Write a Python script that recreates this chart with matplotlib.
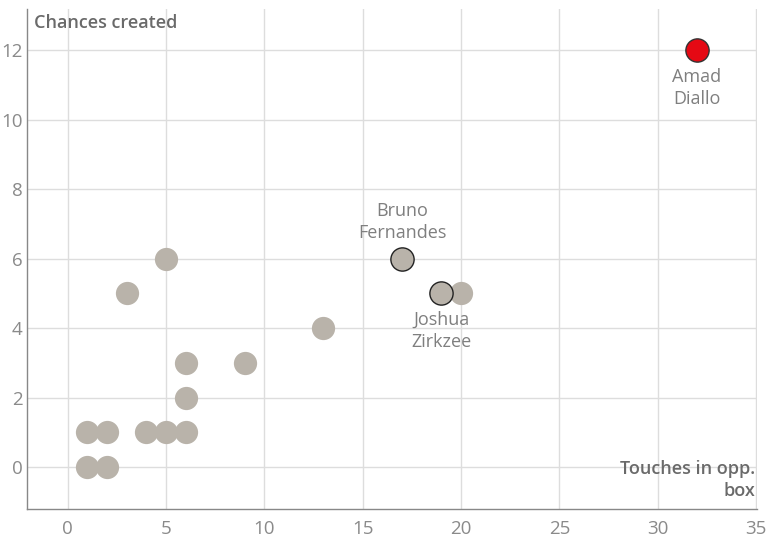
import numpy as np
import matplotlib.pyplot as plt

# touches in opposition box vs chances created
touches = [1, 2, 1, 2, 4, 5, 6, 6, 6, 9, 3, 5, 13, 20]
chances = [0, 0, 1, 1, 1, 1, 1, 2, 3, 3, 5, 6, 4, 5]

# highlighted players
hl_names = ['Bruno\nFernandes', 'Joshua\nZirkzee']
hl_touches = [17, 19]
hl_chances = [6, 5]

star_name = 'Amad\nDiallo'
star_touches = [32]
star_chances = [12]

xticks = [0, 5, 10, 15, 20, 25, 30, 35]
yticks = [0, 2, 4, 6, 8, 10, 12]

plt.rcParams['font.family'] = ['Open Sans', 'DejaVu Sans']

fig = plt.figure(figsize=(7.67, 5.41), dpi=100)
ax = fig.add_axes([0.035, 0.059, 0.952, 0.924])

grey = '#b9b3aa'
ax.scatter(touches, chances, s=280, color=grey, zorder=3, linewidths=0)
ax.scatter(hl_touches, hl_chances, s=280, color=grey, edgecolors='#222222',
           linewidths=1.0, zorder=4)
ax.scatter(star_touches, star_chances, s=280, color='#e50914', edgecolors='#333333',
           linewidths=1.0, zorder=5)

lab = dict(color='#7f7f7f', fontsize=13, ha='center', linespacing=1.3, zorder=6)
ax.text(32, 11.5, star_name, va='top', **lab)
ax.text(17, 6.48, hl_names[0], va='bottom', **lab)
ax.text(19, 4.5, hl_names[1], va='top', **lab)

ax.set_xlim(-2.08, 35.05)
ax.set_ylim(-1.21, 13.18)
ax.set_xticks(xticks)
ax.set_yticks(yticks)
ax.grid(True, color='#dddddd', linewidth=1.0)
ax.set_axisbelow(True)
ax.tick_params(length=0, labelsize=13.5, colors='#8a8a8a', pad=8)
ax.tick_params(axis='y', pad=3)

for s in ['top', 'right']:
    ax.spines[s].set_visible(False)
for s in ['left', 'bottom']:
    ax.spines[s].set_color('#888888')
    ax.spines[s].set_linewidth(1.0)

ax.text(0.01, 0.99, 'Chances created', transform=ax.transAxes, ha='left', va='top',
        color='#6a6a6a', fontsize=13, fontweight='semibold')
ax.text(0.997, 0.098, 'Touches in opp.\nbox', transform=ax.transAxes, ha='right', va='top',
        color='#6a6a6a', fontsize=13, fontweight='semibold', linespacing=1.25)

fig.savefig('out.png', dpi=100)
